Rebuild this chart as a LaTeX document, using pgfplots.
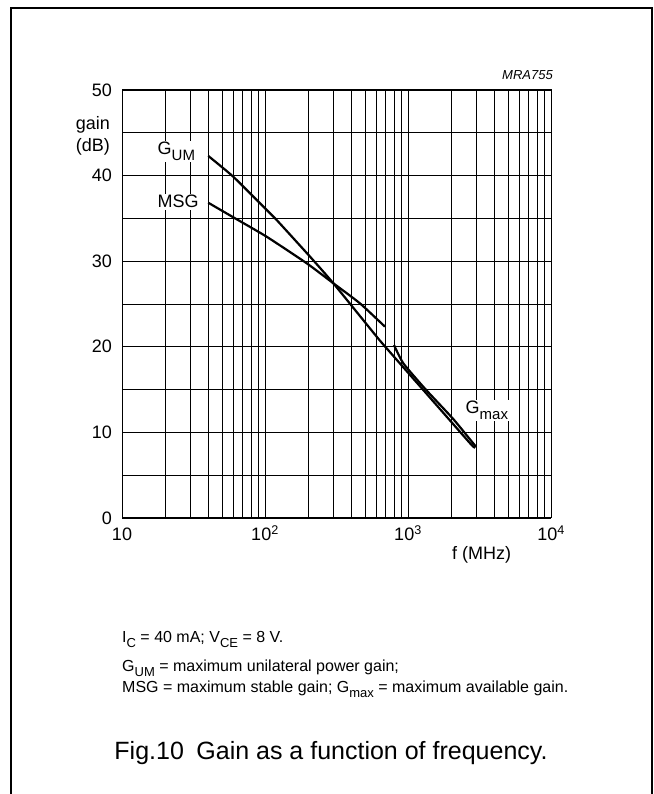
\documentclass[border=0pt]{standalone}
\usepackage{fontspec}
\setmainfont{Liberation Sans}
\usepackage{pgfplots}
\pgfplotsset{compat=1.18}
% subscripts as in the data sheet: nearly full size, set low
\newcommand{\sub}[2][13]{\raisebox{-0.28em}{\fontsize{#1}{#1}\selectfont #2}}

\begin{document}
\begin{tikzpicture}[x=1pt,y=1pt]
\useasboundingbox (0,0) rectangle (653,794);
% outer frame (open at the bottom)
\draw[line width=1.3pt] (11,0) -- (11,786) -- (652,786) -- (652,0);

\begin{axis}[
    at={(122pt,276pt)}, anchor=south west,
    width=429pt, height=428pt, scale only axis,
    xmode=log,
    xmin=10, xmax=10000,
    ymin=0, ymax=50,
    xtick={10,100,1000,10000},
    xticklabels={10,10\textsuperscript{2},10\textsuperscript{3},10\textsuperscript{4}},
    ytick={0,10,...,50},
    yticklabels={0,10,20,30,40,50},
    minor ytick={5,15,...,45},
    grid=both,
    major grid style={black, line width=0.8pt},
    minor grid style={black, line width=0.8pt},
    axis line style={line width=1pt},
    tick style={draw=none},
    ticklabel style={font=\fontsize{18}{20}\selectfont},
    xticklabel style={anchor=base, yshift=-23pt},
    yticklabel style={anchor=east, inner sep=0pt, xshift=-10pt},
    clip=false,
]
% G_UM
\addplot[black, line width=2.2pt, smooth, tension=0.3] coordinates {
    (40.1,42.3) (60,39.87) (100,36.18) (120.7,34.81) (206.5,30.53)
    (300.6,27.42) (604,21.18) (709,19.82) (1279,14.95) (2716,8.73) (2944,8.2)
};
% MSG
\addplot[black, line width=2.2pt, smooth, tension=0.3] coordinates {
    (40.1,36.83) (60,35.13) (102.7,32.86) (196,29.75) (300.6,27.42)
    (461,25.08) (690,22.35)
};
% G_max
\addplot[black, line width=2.2pt, smooth, tension=0.3] coordinates {
    (798,20.2) (927,18.07) (1315,15.1) (2075,11.55) (2995,8.3)
};
\end{axis}

\begin{scope}[every node/.style={font=\fontsize{18}{20}\selectfont, inner sep=0pt}]
\node[anchor=base east] at (110,664) {gain};
\node[anchor=base east] at (110,642) {(dB)};
\node[anchor=base west, fill=white, inner sep=1.5pt] at (156,639) {G\sub[15]{UM}};
\node[anchor=base west, fill=white, inner sep=1.5pt] at (156,586) {MSG};
\node[anchor=base west, fill=white, inner sep=1.5pt] at (464,380) {G\sub[15]{max}};
\node[anchor=base west] at (452,234) {f (MHz)};
\node[anchor=base east, font=\fontsize{13}{15}\selectfont\itshape] at (553,714) {MRA755};
\end{scope}
\begin{scope}[every node/.style={font=\fontsize{16}{18}\selectfont, inner sep=0pt, anchor=base west}]
\node at (122,151) {I\sub{C} = 40 mA; V\sub{CE} = 8 V.};
\node at (122,122) {G\sub{UM} = maximum unilateral power gain;};
\node at (122,101) {MSG = maximum stable gain; G\sub{max} = maximum available gain.};
\end{scope}
\node[anchor=base, inner sep=0pt, font=\fontsize{25}{28}\selectfont] at (331,34) {Fig.10\enspace Gain as a function of frequency.};
\end{tikzpicture}
\end{document}
